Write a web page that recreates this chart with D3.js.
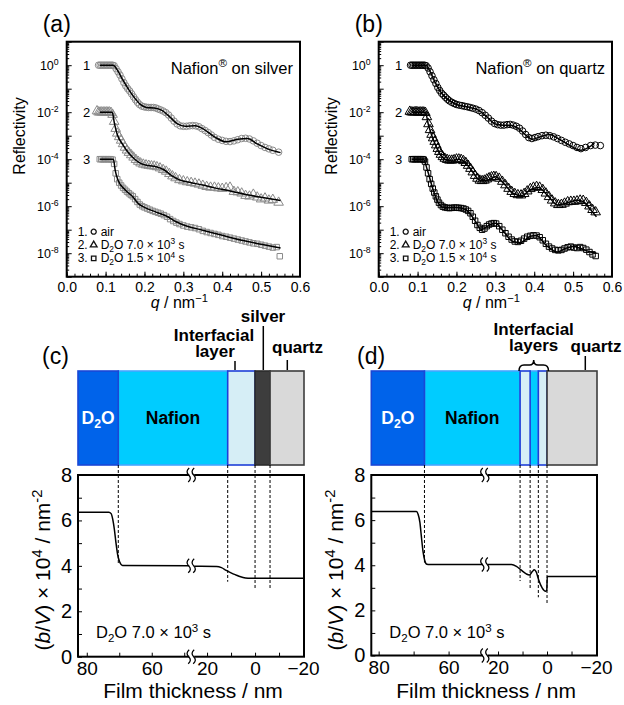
<!DOCTYPE html>
<html>
<head>
<meta charset="utf-8">
<script src="https://cdn.jsdelivr.net/npm/d3@7"></script>
<style>
  body { margin: 0; background: #fff; }
  svg { font-family: "Liberation Sans", Arial, Helvetica, sans-serif; }
</style>
</head>
<body>
<svg id="fig" width="624" height="705"></svg>
<script>
// ---- reflectivity data: [q (nm^-1), log10 R] ----
const silverAir = [[0.082,0],[0.086,0],[0.09,0],[0.094,0],[0.098,0],[0.102,0],[0.106,0],[0.11,0],[0.114,0],[0.118,0],[0.122,-0.02],
  [0.127,-0.15],[0.132,-0.28],[0.137,-0.42],[0.142,-0.58],[0.147,-0.74],[0.152,-0.88],[0.157,-1.0],[0.162,-1.1],[0.167,-1.22],
  [0.172,-1.35],[0.177,-1.47],[0.182,-1.58],[0.187,-1.67],[0.193,-1.74],[0.199,-1.77],[0.205,-1.79],[0.211,-1.8],[0.217,-1.8],
  [0.223,-1.8],[0.229,-1.82],[0.235,-1.86],[0.241,-1.9],[0.248,-1.95],[0.255,-2.02],[0.262,-2.12],[0.269,-2.25],[0.276,-2.38],
  [0.284,-2.5],[0.292,-2.58],[0.3,-2.6],[0.308,-2.6],[0.316,-2.58],[0.324,-2.57],[0.332,-2.58],[0.34,-2.62],[0.348,-2.7],
  [0.356,-2.78],[0.364,-2.87],[0.372,-2.97],[0.38,-3.07],[0.39,-3.15],[0.4,-3.2],[0.41,-3.24],[0.42,-3.25],[0.43,-3.22],
  [0.44,-3.17],[0.45,-3.12],[0.46,-3.11],[0.47,-3.14],[0.48,-3.22],[0.49,-3.32],[0.5,-3.42],[0.51,-3.5],[0.52,-3.56],
  [0.53,-3.62],[0.545,-3.7]];
const silverD2O7k = [[0.078,-1.95],[0.082,-2],[0.086,-2],[0.09,-2],[0.094,-2],[0.098,-2],[0.102,-2],[0.106,-2],[0.11,-2],[0.114,-2.02],
  [0.118,-2.1],[0.122,-2.4],[0.126,-2.7],[0.13,-2.9],[0.135,-3.05],[0.14,-3.2],[0.145,-3.35],[0.15,-3.5],[0.155,-3.62],[0.16,-3.72],
  [0.166,-3.82],[0.172,-3.92],[0.178,-4.02],[0.184,-4.1],[0.19,-4.17],[0.197,-4.22],[0.204,-4.25],[0.211,-4.27],[0.218,-4.29],
  [0.225,-4.3],[0.232,-4.33],[0.24,-4.38],[0.248,-4.45],[0.256,-4.52],[0.264,-4.62],[0.272,-4.72],[0.28,-4.8],[0.29,-4.88],
  [0.3,-4.93],[0.31,-4.97],[0.32,-5.0],[0.33,-5.03],[0.34,-5.07],[0.35,-5.12],[0.36,-5.17],[0.37,-5.2],[0.38,-5.2],[0.39,-5.23],
  [0.4,-5.25],[0.41,-5.22],[0.42,-5.2],[0.43,-5.38],[0.44,-5.4],[0.45,-5.45],[0.46,-5.55],[0.47,-5.58],[0.48,-5.5],[0.49,-5.62],
  [0.5,-5.7],[0.51,-5.66],[0.52,-5.75],[0.53,-5.72],[0.545,-5.84]];
const silverD2O15k = [[0.085,-4],[0.089,-4],[0.093,-4],[0.097,-4],[0.101,-4],[0.105,-4],[0.109,-4],[0.113,-4],[0.118,-4.02],
  [0.122,-4.2],[0.126,-4.6],[0.13,-4.85],[0.135,-5.0],[0.14,-5.12],[0.145,-5.22],[0.15,-5.3],[0.155,-5.38],[0.16,-5.45],
  [0.165,-5.52],[0.17,-5.58],[0.176,-5.7],[0.182,-5.82],[0.188,-5.93],[0.194,-6.0],[0.2,-6.05],[0.207,-6.1],[0.214,-6.15],
  [0.221,-6.2],[0.228,-6.24],[0.235,-6.28],[0.242,-6.32],[0.25,-6.38],[0.258,-6.45],[0.266,-6.55],[0.274,-6.63],[0.282,-6.7],
  [0.29,-6.76],[0.3,-6.82],[0.31,-6.87],[0.32,-6.9],[0.33,-6.93],[0.34,-6.98],[0.35,-7.05],[0.36,-7.1],[0.37,-7.14],[0.38,-7.18],
  [0.39,-7.22],[0.4,-7.27],[0.41,-7.3],[0.42,-7.34],[0.43,-7.38],[0.44,-7.42],[0.45,-7.46],[0.46,-7.5],[0.47,-7.54],[0.48,-7.58],
  [0.49,-7.6],[0.5,-7.64],[0.51,-7.68],[0.52,-7.72],[0.53,-7.76],[0.54,-7.74],[0.548,-8.13]];
const silverFitAir = [[0.085,0],[0.12,0],[0.13,-0.2],[0.145,-0.65],[0.16,-1.05],[0.175,-1.4],[0.19,-1.68],[0.205,-1.8],[0.225,-1.82],
  [0.245,-1.92],[0.265,-2.2],[0.285,-2.5],[0.305,-2.6],[0.33,-2.58],[0.35,-2.7],[0.38,-3.05],[0.41,-3.26],[0.44,-3.15],
  [0.465,-3.12],[0.49,-3.35],[0.52,-3.58],[0.55,-3.72]];
const silverFit7k = [[0.085,-2],[0.117,-2],[0.123,-2.5],[0.13,-2.95],[0.145,-3.4],[0.16,-3.75],[0.175,-4.0],[0.19,-4.18],[0.21,-4.27],
  [0.23,-4.32],[0.25,-4.45],[0.27,-4.7],[0.29,-4.88],[0.32,-5.0],[0.35,-5.1],[0.38,-5.22],[0.42,-5.35],[0.46,-5.5],[0.5,-5.62],[0.55,-5.76]];
const silverFit15k = [[0.085,-4],[0.12,-4],[0.125,-4.5],[0.132,-4.9],[0.15,-5.3],[0.17,-5.6],[0.185,-5.9],[0.2,-6.05],[0.23,-6.25],
  [0.26,-6.45],[0.28,-6.65],[0.31,-6.85],[0.35,-7.02],[0.4,-7.24],[0.45,-7.45],[0.5,-7.62],[0.55,-7.78]];

const quartzAir = [[0.082,0],[0.086,0],[0.09,0],[0.094,0],[0.098,0],[0.102,0],[0.106,0],[0.11,0],[0.114,0],[0.118,0],[0.122,-0.02],
  [0.127,-0.12],[0.132,-0.28],[0.137,-0.45],[0.142,-0.62],[0.147,-0.78],[0.152,-0.95],[0.157,-1.08],[0.162,-1.2],[0.167,-1.28],
  [0.172,-1.37],[0.177,-1.45],[0.182,-1.52],[0.188,-1.58],[0.194,-1.63],[0.2,-1.67],[0.207,-1.7],[0.214,-1.72],[0.221,-1.75],
  [0.228,-1.77],[0.235,-1.8],[0.242,-1.83],[0.25,-1.87],[0.258,-1.93],[0.266,-2.02],[0.274,-2.13],[0.282,-2.25],[0.29,-2.38],
  [0.298,-2.48],[0.306,-2.53],[0.314,-2.55],[0.322,-2.55],[0.33,-2.53],[0.338,-2.52],[0.346,-2.55],[0.354,-2.6],[0.362,-2.68],
  [0.37,-2.8],[0.378,-2.95],[0.386,-3.08],[0.394,-3.12],[0.402,-3.08],[0.41,-3.04],[0.42,-3.0],[0.43,-2.98],[0.44,-3.0],
  [0.45,-3.05],[0.46,-3.12],[0.47,-3.2],[0.48,-3.28],[0.49,-3.35],[0.5,-3.42],[0.51,-3.5],[0.52,-3.55],[0.532,-3.5],
  [0.545,-3.42],[0.557,-3.4],[0.57,-3.42]];
const quartzD2O7k = [[0.08,-1.97],[0.084,-2],[0.088,-2],[0.092,-2],[0.096,-1.98],[0.1,-2],[0.104,-2],[0.108,-2],[0.112,-2],[0.116,-2],
  [0.12,-2.02],[0.124,-2.2],[0.128,-2.5],[0.132,-2.75],[0.136,-2.95],[0.14,-3.1],[0.144,-3.25],[0.148,-3.4],[0.152,-3.55],
  [0.156,-3.68],[0.16,-3.8],[0.165,-3.9],[0.17,-3.97],[0.176,-4.02],[0.182,-4.05],[0.188,-4.05],[0.194,-4.03],[0.2,-4.0],
  [0.206,-4.0],[0.212,-4.02],[0.218,-4.07],[0.224,-4.15],[0.23,-4.27],[0.236,-4.4],[0.242,-4.55],[0.248,-4.7],[0.254,-4.82],
  [0.26,-4.9],[0.266,-4.92],[0.272,-4.9],[0.278,-4.85],[0.284,-4.8],[0.29,-4.76],[0.296,-4.74],[0.302,-4.75],[0.31,-4.82],
  [0.318,-4.95],[0.326,-5.1],[0.334,-5.25],[0.342,-5.38],[0.35,-5.47],[0.358,-5.52],[0.366,-5.53],[0.374,-5.47],[0.382,-5.36],
  [0.39,-5.26],[0.398,-5.2],[0.406,-5.17],[0.414,-5.2],[0.422,-5.3],[0.43,-5.45],[0.438,-5.6],[0.446,-5.75],[0.454,-5.87],
  [0.462,-5.94],[0.47,-5.93],[0.478,-5.88],[0.486,-5.82],[0.494,-5.8],[0.502,-5.8],[0.51,-5.78],[0.518,-5.75],[0.526,-5.76],
  [0.534,-5.85],[0.542,-6.0],[0.55,-6.15],[0.558,-6.25]];
const quartzD2O15k = [[0.085,-4],[0.089,-4],[0.093,-4],[0.097,-4],[0.101,-4],[0.105,-4],[0.109,-4],[0.113,-4],[0.116,-4.02],
  [0.119,-4.1],[0.123,-4.35],[0.127,-4.6],[0.131,-4.85],[0.135,-5.05],[0.139,-5.25],[0.143,-5.42],[0.147,-5.58],[0.151,-5.72],
  [0.155,-5.85],[0.16,-5.95],[0.165,-6.02],[0.17,-6.05],[0.176,-6.07],[0.182,-6.08],[0.188,-6.07],[0.194,-6.06],[0.2,-6.06],
  [0.206,-6.07],[0.212,-6.08],[0.218,-6.1],[0.224,-6.14],[0.23,-6.2],[0.236,-6.3],[0.242,-6.45],[0.248,-6.62],[0.254,-6.8],
  [0.26,-6.92],[0.266,-7.0],[0.272,-6.95],[0.278,-6.85],[0.284,-6.78],[0.29,-6.74],[0.296,-6.72],[0.302,-6.74],[0.31,-6.85],
  [0.318,-7.0],[0.326,-7.15],[0.334,-7.3],[0.342,-7.42],[0.35,-7.5],[0.358,-7.52],[0.366,-7.47],[0.374,-7.38],[0.382,-7.3],
  [0.39,-7.26],[0.398,-7.24],[0.406,-7.25],[0.414,-7.32],[0.422,-7.45],[0.43,-7.6],[0.438,-7.72],[0.446,-7.8],[0.454,-7.86],
  [0.462,-7.88],[0.47,-7.86],[0.478,-7.8],[0.486,-7.75],[0.494,-7.72],[0.502,-7.76],[0.51,-7.78],[0.518,-7.74],[0.526,-7.78],
  [0.534,-7.85],[0.542,-7.95],[0.55,-8.05],[0.558,-8.12]];
const quartzFitAir = [[0.085,0],[0.122,0],[0.13,-0.2],[0.145,-0.72],[0.16,-1.15],[0.175,-1.42],[0.2,-1.67],[0.23,-1.78],[0.255,-1.9],
  [0.275,-2.15],[0.3,-2.5],[0.32,-2.55],[0.34,-2.55],[0.36,-2.7],[0.38,-3.0],[0.395,-3.15],[0.415,-3.05],[0.44,-2.95],
  [0.46,-3.1],[0.49,-3.4],[0.52,-3.62],[0.54,-3.5],[0.555,-3.32]];
const quartzFit7k = [[0.085,-2],[0.12,-2],[0.128,-2.55],[0.14,-3.15],[0.155,-3.7],[0.17,-4.0],[0.19,-4.08],[0.205,-4.0],[0.22,-4.1],
  [0.24,-4.5],[0.26,-4.9],[0.275,-4.92],[0.3,-4.75],[0.32,-5.0],[0.345,-5.45],[0.368,-5.55],[0.39,-5.3],[0.41,-5.2],
  [0.435,-5.55],[0.46,-5.95],[0.48,-5.88],[0.51,-5.75],[0.525,-5.8],[0.545,-6.15],[0.56,-6.45]];
const quartzFit15k = [[0.085,-4],[0.115,-4],[0.125,-4.45],[0.14,-5.3],[0.155,-5.9],[0.17,-6.07],[0.2,-6.05],[0.225,-6.15],
  [0.245,-6.55],[0.265,-7.0],[0.28,-6.85],[0.3,-6.73],[0.32,-7.05],[0.345,-7.5],[0.365,-7.55],[0.39,-7.28],[0.405,-7.25],
  [0.43,-7.65],[0.46,-7.95],[0.48,-7.8],[0.5,-7.72],[0.52,-7.8],[0.545,-7.95],[0.56,-8.0]];

const qTicks = [0, 0.1, 0.2, 0.3, 0.4, 0.5, 0.6];
const logLabelExps = [0, -2, -4, -6, -8];
const curveLabels = ["1", "2", "3"];
const legendRows = ["air", "D2O 7.0×10^3 s", "D2O 1.5×10^4 s"];

// ---- SLD profiles: [film thickness (nm), (b/V) x 10^4 (nm^-2)] ----
const silverProfileLeft = [[82.7,6.36],[73.2,6.36],[72.5,6.3],[72.0,6.05],[71.5,5.6],[71.0,5.0],[70.5,4.5],[69.9,4.18],[69.0,4.02],[47.7,4.0]];
const silverProfileRight = [[26.4,3.98],[16,3.97],[14,3.92],[12,3.8],[10,3.69],[8,3.6],[6,3.52],[4,3.47],[2,3.45],[-20.4,3.45]];
const quartzProfileLeft = [[82.1,6.38],[69.2,6.38],[68.7,6.25],[68.2,5.9],[67.8,5.3],[67.3,4.6],[66.8,4.2],[66.2,4.04],[65.5,4.03],[49.5,4.03]];
const quartzProfileRight = [[25.2,4.03],[14.5,4.03],[12.5,3.95],[10.5,3.78],[8.5,3.62],[7.2,3.57],[6.0,3.72],[5.2,3.8],[4.4,3.7],
  [3.4,3.35],[2.0,3.0],[0.6,2.85],[0.08,2.9],[-0.08,3.5],[-20.4,3.5]];
const silverDashes = [[70.3,4.05],[11.4,3.3],[0,2.95],[-6.25,2.95]];
const quartzDashes = [[66.9,4.12],[11.0,3.3],[6.9,2.94],[3.55,2.58],[0,2.27]];
const silverLayers = [
  {kind:"nafion", from:70.3, to:11.4, label:"Nafion"},
  {kind:"d2o", from:82.7, to:70.3, label:"D2O"},
  {kind:"inter", from:11.4, to:0},
  {kind:"silver", from:0, to:-6.25},
  {kind:"quartz", from:-6.25, to:-20.4}];
const quartzLayers = [
  {kind:"nafion", from:66.9, to:11.0, label:"Nafion"},
  {kind:"nafion", from:6.9, to:3.55},
  {kind:"d2o", from:82.1, to:66.9, label:"D2O"},
  {kind:"inter", from:11.0, to:6.9},
  {kind:"inter", from:3.55, to:0},
  {kind:"quartz", from:0, to:-20.4}];
const filmTicksLeft = [80, 70, 60, 50];
const filmTicksRight = [20, 10, 0, -10, -20];
const filmLabels = [80, 60, 20, 0, -20];
const sldTicks = [0, 1, 2, 3, 4, 5, 6, 7, 8];

const layerStyle = {
  d2o:    {fill: "#0063ea", stroke: "#1a47d6"},
  nafion: {fill: "#00ccff", stroke: "#45a6ff"},
  inter:  {fill: "#d6eef6", stroke: "#1e3fd8"},
  silver: {fill: "#3d3d3d", stroke: "#2b2b2b"},
  quartz: {fill: "#d9d9d9", stroke: "#3c3c3c"}
};

const svg = d3.select("#fig");

// text with sub/superscripts and italics
function rich(sel, parts, size) {
  let shift = 0;
  parts.forEach(p => {
    const o = typeof p === "string" ? {t: p} : p;
    const target = o.s === "sup" ? -size * 0.38 : o.s === "sub" ? size * 0.22 : 0;
    const ts = sel.append("tspan").text(o.t).attr("dy", target - shift);
    if (o.s) ts.attr("font-size", size * 0.7);
    if (o.i) ts.attr("font-style", "italic");
    shift = target;
  });
  return sel;
}
function richLabel(str) {
  // "D2O 7.0×10^3 s" -> parts
  const m = str.match(/^D2O (.*)×10\^(\d) s$/);
  if (!m) return [str];
  return ["D", {t: "2", s: "sub"}, "O " + m[1] + " × 10", {t: m[2], s: "sup"}, " s"];
}

const symbolTypes = {circle: d3.symbolCircle, triangle: d3.symbolTriangle, square: d3.symbolSquare};
const symbols = {
  circle: d3.symbol(d3.symbolCircle, 34),
  triangle: d3.symbol(d3.symbolTriangle, 40),
  square: d3.symbol(d3.symbolSquare, 30)
};

function reflPanel(p) {
  const x = d3.scaleLinear().domain([0, 0.6]).range([p.x0, p.x1]);
  const y = d3.scaleLog().domain([1e-9, 10]).range([p.y1, p.y0]);
  const g = svg.append("g");

  // ticks
  const qMinor = d3.range(0, 0.601, 0.02);
  g.append("g").attr("transform", `translate(0,${p.y1})`)
    .call(d3.axisBottom(x).tickValues(qMinor).tickSize(-3).tickFormat(""))
    .call(a => a.select(".domain").remove());
  g.append("g").attr("transform", `translate(0,${p.y1})`)
    .call(d3.axisBottom(x).tickValues(qTicks).tickSizeInner(-5).tickSizeOuter(0).tickPadding(5).tickFormat(d3.format(".1f")))
    .call(a => a.select(".domain").remove())
    .call(a => a.selectAll("text").attr("font-size", 14).attr("font-family", null));
  const minor = [];
  for (let e = -9; e <= 0; e++) for (let m = 2; m <= 9; m++) minor.push(m * Math.pow(10, e));
  g.append("g").attr("transform", `translate(${p.x0},0)`)
    .call(d3.axisLeft(y).tickValues(minor).tickSize(-2.5).tickFormat(""))
    .call(a => a.select(".domain").remove());
  g.append("g").attr("transform", `translate(${p.x0},0)`)
    .call(d3.axisLeft(y).tickValues(d3.range(-9, 2).map(e => Math.pow(10, e))).tickSize(-5).tickFormat(""))
    .call(a => a.select(".domain").remove());
  logLabelExps.forEach(e => {
    rich(g.append("text").attr("x", p.x0 - 8).attr("y", y(Math.pow(10, e)) + 5)
      .attr("text-anchor", "end").attr("font-size", 12.5), ["10", {t: String(e), s: "sup"}], 12.5);
  });

  // markers
  p.series.forEach(s => {
    g.append("g").selectAll("path").data(s.pts).join("path")
      .attr("d", symbols[s.shape])
      .attr("transform", d => `translate(${x(d[0])},${y(Math.pow(10, d[1]))})`)
      .attr("fill", "none").attr("stroke", p.markColor).attr("stroke-width", 1);
  });
  // fits
  const line = d3.line().x(d => x(d[0])).y(d => y(Math.pow(10, d[1]))).curve(d3.curveMonotoneX);
  p.fits.forEach(f => {
    g.append("path").attr("d", line(f)).attr("fill", "none").attr("stroke", "#000").attr("stroke-width", 1.5);
  });

  // curve numbers
  curveLabels.forEach((t, i) => {
    g.append("text").attr("x", p.x0 + 20).attr("y", y(Math.pow(10, -2 * i)) + 5)
      .attr("text-anchor", "middle").attr("font-size", 13).text(t);
  });

  // frame
  g.append("rect").attr("x", p.x0).attr("y", p.y0).attr("width", p.x1 - p.x0).attr("height", p.y1 - p.y0)
    .attr("fill", "none").attr("stroke", "#000").attr("stroke-width", 2);

  // title inside
  rich(g.append("text").attr("x", p.x1 - 7).attr("y", p.y0 + 32).attr("text-anchor", "end").attr("font-size", 16.5),
    ["Nafion", {t: "®", s: "sup"}, " on " + p.substrate], 16.5);

  // legend
  const shapes = ["circle", "triangle", "square"];
  legendRows.forEach((t, i) => {
    const yy = p.y1 - 45 + i * 13.3;
    g.append("text").attr("x", p.x0 + 11).attr("y", yy + 4).attr("font-size", 12).text((i + 1) + ".");
    g.append("path").attr("d", d3.symbol(symbolTypes[shapes[i]], 20)())
      .attr("transform", `translate(${p.x0 + 27},${yy})`).attr("fill", "none").attr("stroke", "#111").attr("stroke-width", 1.3);
    rich(g.append("text").attr("x", p.x0 + 34).attr("y", yy + 4).attr("font-size", 12), richLabel(t), 12);
  });

  // axis titles
  g.append("text").attr("transform", `translate(${p.x0 - 42},136) rotate(-90)`)
    .attr("text-anchor", "middle").attr("font-size", 16).text("Reflectivity");
  rich(g.append("text").attr("x", (p.x0 + p.x1) / 2 - 4).attr("y", 308).attr("text-anchor", "middle").attr("font-size", 16),
    [{t: "q", i: true}, " / nm", {t: "−1", s: "sup"}], 16);

  g.append("text").attr("x", p.x0 - 24).attr("y", 32).attr("font-size", 23).text(p.tag);
}

function breakMark(g, cx, cy) {
  g.append("rect").attr("x", cx - 2.5).attr("y", cy - 6).attr("width", 5).attr("height", 12).attr("fill", "#fff");
  [-2.5, 2.5].forEach(dx => {
    g.append("path").attr("d", `M${cx + dx - 1},${cy + 7} q 4,-3.5 0.5,-7 q -3.5,-3.5 0.5,-7`)
      .attr("fill", "none").attr("stroke", "#000").attr("stroke-width", 1.3);
  });
}

function profilePanel(p) {
  const xl = d3.scaleLinear().domain(p.leftDom).range([p.x0, p.xb]);
  const xr = d3.scaleLinear().domain(p.rightDom).range([p.xb, p.x1]);
  const split = (p.leftDom[1] + p.rightDom[0]) / 2;
  const xs = v => v > split ? xl(v) : xr(v);
  const y = d3.scaleLinear().domain([0, 8]).range([p.y1, p.y0]);
  const g = svg.append("g");

  // schematic of layers
  const sy0 = 371, sy1 = 465;
  p.layers.forEach(L => {
    const st = layerStyle[L.kind];
    g.append("rect").attr("x", xs(L.from)).attr("y", sy0).attr("width", xs(L.to) - xs(L.from)).attr("height", sy1 - sy0)
      .attr("fill", st.fill).attr("stroke", st.stroke).attr("stroke-width", 1.6);
    if (L.label) {
      const t = g.append("text").attr("x", (xs(L.from) + xs(L.to)) / 2).attr("y", (sy0 + sy1) / 2 + 6)
        .attr("text-anchor", "middle").attr("font-size", 17.5).attr("font-weight", "bold")
        .attr("fill", L.kind === "d2o" ? "#fff" : "#000");
      if (L.label === "D2O") rich(t, ["D", {t: "2", s: "sub"}, "O"], 17.5); else t.text(L.label);
    }
  });

  // dashed guide lines
  p.dashes.forEach(d => {
    g.append("line").attr("x1", xs(d[0])).attr("x2", xs(d[0])).attr("y1", sy1).attr("y2", y(d[1]))
      .attr("stroke", "#000").attr("stroke-width", 1).attr("stroke-dasharray", "3,2");
  });

  // profile
  const line = d3.line().x(d => xs(d[0])).y(d => y(d[1])).curve(d3.curveMonotoneX);
  [p.left, p.right].forEach(seg => {
    g.append("path").attr("d", line(seg)).attr("fill", "none").attr("stroke", "#000").attr("stroke-width", 1.5);
  });

  // axes
  const fmt = d => filmLabels.includes(d) ? (d < 0 ? "−" + (-d) : String(d)) : "";
  [[xl, filmTicksLeft], [xr, filmTicksRight]].forEach(([sc, tv]) => {
    g.append("g").attr("transform", `translate(0,${p.y1})`)
      .call(d3.axisBottom(sc).tickValues(tv).tickSizeInner(-4).tickSizeOuter(0).tickPadding(5).tickFormat(fmt))
      .call(a => a.select(".domain").remove())
      .call(a => a.selectAll("text").attr("font-size", 19).attr("font-family", null));
  });
  g.append("g").attr("transform", `translate(${p.x0},0)`)
    .call(d3.axisLeft(y).tickValues(sldTicks).tickSizeInner(-4).tickSizeOuter(0).tickPadding(6)
      .tickFormat(d => d % 2 === 0 ? d : ""))
    .call(a => a.select(".domain").remove())
    .call(a => a.selectAll("text").attr("font-size", 20).attr("font-family", null));

  g.append("rect").attr("x", p.x0).attr("y", p.y0).attr("width", p.x1 - p.x0).attr("height", p.y1 - p.y0)
    .attr("fill", "none").attr("stroke", "#000").attr("stroke-width", 2);

  breakMark(g, p.xb, p.y0);
  breakMark(g, p.xb, p.y1);
  breakMark(g, p.xb, y(p.left[p.left.length - 1][1]));

  // texts
  rich(g.append("text").attr("x", p.x0 + 18).attr("y", 638).attr("font-size", 16.5),
    ["D", {t: "2", s: "sub"}, "O 7.0 × 10", {t: "3", s: "sup"}, " s"], 16.5);
  g.append("text").attr("x", (p.x0 + p.x1) / 2 + 2).attr("y", 698).attr("text-anchor", "middle")
    .attr("font-size", 21).text("Film thickness / nm");
  rich(g.append("text").attr("transform", `translate(${p.x0 - 28},570) rotate(-90)`).attr("text-anchor", "middle")
    .attr("font-size", 21), ["(", {t: "b", i: true}, "/", {t: "V", i: true}, ") × 10", {t: "4", s: "sup"}, " / nm", {t: "-2", s: "sup"}], 21);
  g.append("text").attr("x", p.tagX).attr("y", 364).attr("font-size", 23).text(p.tag);
  p.annotate(g);
}

reflPanel({x0: 66.7, x1: 300, y0: 41.7, y1: 276.7, tag: "(a)", substrate: "silver", markColor: "#8a8a8a",
  series: [{pts: silverAir, shape: "circle"}, {pts: silverD2O7k, shape: "triangle"}, {pts: silverD2O15k, shape: "square"}],
  fits: [silverFitAir, silverFit7k, silverFit15k]});
reflPanel({x0: 378.7, x1: 612, y0: 41.7, y1: 276.7, tag: "(b)", substrate: "quartz", markColor: "#000",
  series: [{pts: quartzAir, shape: "circle"}, {pts: quartzD2O7k, shape: "triangle"}, {pts: quartzD2O15k, shape: "square"}],
  fits: [quartzFitAir, quartzFit7k, quartzFit15k]});

const boldLabel = (g, x, y, t, anchor) => g.append("text").attr("x", x).attr("y", y).attr("text-anchor", anchor || "middle")
  .attr("font-size", 17).attr("font-weight", "bold").text(t);
const tickLine = (g, x, y1, y2) => g.append("line").attr("x1", x).attr("x2", x).attr("y1", y1).attr("y2", y2)
  .attr("stroke", "#000").attr("stroke-width", 1.5);

profilePanel({x0: 78, xb: 191.7, x1: 304, y0: 475, y1: 656.7, leftDom: [82.7, 47.7], rightDom: [26.4, -20.4],
  layers: silverLayers, dashes: silverDashes, left: silverProfileLeft, right: silverProfileRight, tag: "(c)", tagX: 42,
  annotate: g => {
    boldLabel(g, 263, 322, "silver");
    tickLine(g, 263.3, 326, 370);
    boldLabel(g, 214, 340.5, "Interfacial");
    boldLabel(g, 215, 357, "layer");
    tickLine(g, 235, 361, 370);
    boldLabel(g, 272, 353, "quartz", "start");
    tickLine(g, 287.3, 360, 370);
  }});
profilePanel({x0: 371.3, xb: 485.3, x1: 597, y0: 475, y1: 655.5, leftDom: [82.1, 49.5], rightDom: [25.2, -20.4],
  layers: quartzLayers, dashes: quartzDashes, left: quartzProfileLeft, right: quartzProfileRight, tag: "(d)", tagX: 357,
  annotate: g => {
    boldLabel(g, 533.7, 334.5, "Interfacial");
    boldLabel(g, 533.7, 351, "layers");
    g.append("path").attr("d", "M519,371 Q519,365 524,365 L529.5,365 Q533.7,365 533.7,360 Q533.7,365 538,365 L543.5,365 Q548.5,365 548.5,371")
      .attr("fill", "none").attr("stroke", "#000").attr("stroke-width", 1.5);
    boldLabel(g, 596, 351.5, "quartz");
    tickLine(g, 585.3, 356, 370);
  }});
</script>
</body>
</html>
